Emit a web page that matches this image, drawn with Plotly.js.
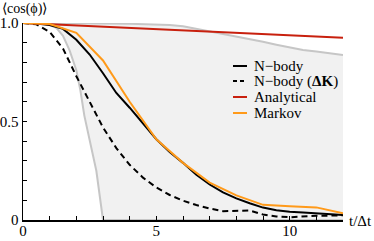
<!DOCTYPE html>
<html><head><meta charset="utf-8">
<script src="https://cdn.plot.ly/plotly-3.0.1.min.js"></script>
<style>html,body{margin:0;padding:0;background:#fff}#c{width:374px;height:241px}</style>
</head><body><div id="c"></div>
<script>
// ---- data ----
const seriesNames = ["N\u2212body", "N\u2212body (<b>\u0394K</b>)", "Analytical", "Markov"];

const nbodyX = [0,0.5,1,1.5,2,2.5,3,3.5,4,4.5,5,5.5,6,6.5,7,7.5,8,8.5,9,9.5,10,10.5,11,11.5,12];
const nbodyY = [1,0.998,0.99,0.97,0.915,0.84,0.745,0.645,0.57,0.49,0.41,0.345,0.29,0.23,0.18,0.14,0.11,0.085,0.063,0.05,0.042,0.038,0.034,0.028,0.025];

const nbodyDKX = [0,0.5,1,1.5,2,2.5,3,3.5,4,4.5,5,5.5,6,6.5,7,7.5,8,8.5,9,9.5,10,10.5,11,11.5,12];
const nbodyDKY = [1,0.993,0.955,0.87,0.73,0.6,0.47,0.365,0.28,0.215,0.165,0.127,0.098,0.076,0.058,0.045,0.045,0.048,0.028,0.018,0.014,0.018,0.022,0.022,0.024];

const analyticalX = [0,3,6,9,12];
const analyticalY = [1,0.981,0.963,0.944,0.925];

const markovX = [0,1,2,3,4,5,6,7,8,9,10,11,12];
const markovY = [1,0.995,0.95,0.81,0.6,0.41,0.29,0.19,0.125,0.077,0.07,0.064,0.034];

const upperX = [0,1,2,3,4,5,5.5,6,6.5,7,7.5,8,8.5,9,9.5,10,10.5,11,11.5,12];
const upperY = [1,1,0.999,0.998,0.996,0.993,0.99,0.983,0.97,0.958,0.945,0.932,0.92,0.905,0.89,0.875,0.863,0.855,0.845,0.838];

const lowerX = [0,0.5,1,1.25,1.5,1.75,2,2.15,2.3,2.5,2.75,3,12];
const lowerY = [1,1,0.99,0.975,0.935,0.86,0.76,0.66,0.53,0.41,0.25,0,0];

const xTickVals = [0,5,10];
const xTickText = ["0","5","10"];
const yTickVals = [0,0.5,1];
const yTickText = ["0","0.5","1.0"];

// ---- styles ----
const serifFamily = "Liberation Serif";
const colors = ["#000000","#000000","#c8200e","#ff9a1a"];
const grey = "#c6c6c6";

const traces = [
  {x: lowerX, y: lowerY, mode:"lines", line:{color:grey, width:2}, hoverinfo:"skip", showlegend:false},
  {x: upperX, y: upperY, mode:"lines", line:{color:grey, width:2}, fill:"tonexty", fillcolor:"#f1f1f1", hoverinfo:"skip", showlegend:false},
  {x: nbodyX, y: nbodyY, name: seriesNames[0], mode:"lines", line:{color:colors[0], width:2}},
  {x: nbodyDKX, y: nbodyDKY, name: seriesNames[1], mode:"lines", line:{color:colors[1], width:2, dash:"6px,4px"}},
  {x: analyticalX, y: analyticalY, name: seriesNames[2], mode:"lines", line:{color:colors[2], width:2}},
  {x: markovX, y: markovY, name: seriesNames[3], mode:"lines", line:{color:colors[3], width:2}}
];

// custom legend (layout)
const W = 374, H = 241, ML = 23, MR = 31, MT = 23, MB = 21;
const pw = W - ML - MR, ph = H - MT - MB;
const px2x = p => (p - ML) / pw;
const py2y = p => (H - MB - p) / ph;
const legRows = [66, 81, 97, 113];
const shapes = [], annotations = [];
seriesNames.forEach((n, i) => {
  shapes.push({type:"line", xref:"paper", yref:"paper", x0:px2x(233), x1:px2x(247), y0:py2y(legRows[i]), y1:py2y(legRows[i]),
    line:{color:colors[i], width:2, dash: i===1 ? "4px,3px" : "solid"}});
  annotations.push({xref:"paper", yref:"paper", x:px2x(252), y:py2y(legRows[i]), xanchor:"left", yanchor:"middle",
    text:n, showarrow:false, font:{family:serifFamily, size:15, color:"#000"}});
});
annotations.push({xref:"paper", yref:"paper", x:px2x(0), y:py2y(9), xanchor:"left", yanchor:"middle",
  text:"\u27e8cos(\u03d5)\u27e9", showarrow:false, font:{family:serifFamily, size:14, color:"#000"}});
annotations.push({xref:"paper", yref:"paper", x:px2x(347), y:py2y(221), xanchor:"left", yanchor:"middle",
  text:"t/\u0394t", showarrow:false, font:{family:serifFamily, size:15, color:"#000"}});

const layout = {
  width: W, height: H,
  margin: {l:ML, r:MR, t:MT, b:MB, pad:0},
  paper_bgcolor:"#fff", plot_bgcolor:"#fff",
  showlegend:false,
  font:{family:serifFamily, size:15, color:"#000"},
  xaxis:{range:[0,12], showgrid:false, zeroline:false, showline:true, linecolor:"#000", linewidth:1.5,
    ticks:"inside", ticklen:4, tickwidth:1, tickcolor:"#000", tickvals:xTickVals, ticktext:xTickText,
    ticklabelstandoff:-4,
    minor:{dtick:1, ticks:"inside", ticklen:4, tickwidth:1, tickcolor:"#000", showgrid:false},
    tickfont:{family:serifFamily, size:15, color:"#000"}, fixedrange:true},
  yaxis:{range:[0,1], showgrid:false, zeroline:false, showline:true, linecolor:"#000", linewidth:1.5,
    ticks:"inside", ticklen:4, tickwidth:1, tickcolor:"#000", tickvals:yTickVals, ticktext:yTickText,
    minor:{dtick:0.1, ticks:"inside", ticklen:4, tickwidth:1, tickcolor:"#000", showgrid:false},
    tickfont:{family:serifFamily, size:15, color:"#000"}, fixedrange:true},
  shapes: shapes, annotations: annotations
};

Plotly.newPlot("c", traces, layout, {staticPlot:true, displayModeBar:false});
</script></body></html>
